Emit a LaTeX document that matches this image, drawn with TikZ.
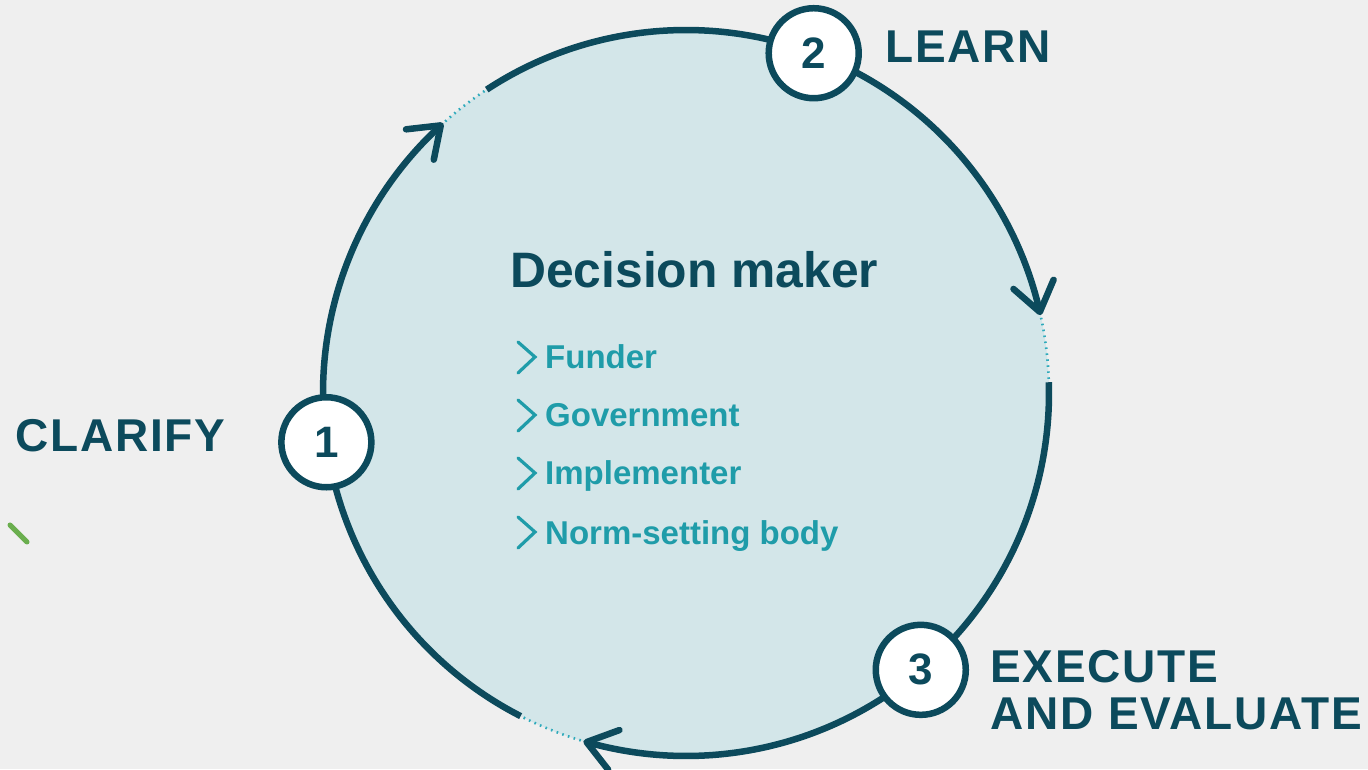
\documentclass[tikz,border=0pt]{standalone}
\usepackage{fontspec}
\setmainfont{Liberation Sans}
\newfontfamily\labelfont{Liberation Sans}[LetterSpace=4]
\definecolor{bgc}{HTML}{EFEFEF}
\definecolor{ringfill}{HTML}{D3E6E9}
\definecolor{ink}{HTML}{0C4A5C}
\definecolor{tealtxt}{HTML}{1F9CA9}
\definecolor{dotc}{HTML}{2EAABB}
\definecolor{markgreen}{HTML}{6AAE4E}

\begin{document}
\begin{tikzpicture}[x=1pt,y=1pt,
  ring/.style={draw=ink, line width=6.5pt},
  barb/.style={draw=ink, line width=6.5pt, line cap=round, line join=round},
  gapdots/.style={draw=dotc, line width=2.6pt, dash pattern=on 1.6pt off 4.4pt},
  stepnum/.style={circle, draw=ink, line width=6.5pt, fill=white, minimum size=90pt,
    inner sep=0pt, text=ink, font=\fontsize{44}{44}\selectfont\bfseries},
  phase/.style={anchor=base west, inner sep=0pt, text=ink,
    font=\labelfont\fontsize{46}{47}\selectfont\bfseries},
  item/.style={anchor=base west, inner sep=0pt, text=tealtxt,
    font=\fontsize{33}{33}\selectfont\bfseries},
  chev/.style={draw=tealtxt, line width=3.2pt, line cap=round, line join=miter}
]
\useasboundingbox (0,0) rectangle (1368,769);
\fill[bgc] (0,0) rectangle (1368,769);

% the cycle disc
\coordinate (c) at (686,376);
\fill[ringfill] (c) circle (363pt);

% arrow tips and the ends of the dotted gaps
\coordinate (t1) at ([shift={(132.5:363pt)}]c);
\coordinate (t2) at ([shift={(12.9:363pt)}]c);
\coordinate (t3) at ([shift={(-105.9:363pt)}]c);
\coordinate (g1) at ([shift={(123.3:363pt)}]c);
\coordinate (g2) at ([shift={(1.7:363pt)}]c);
\coordinate (g3) at ([shift={(-117.1:363pt)}]c);

% dotted gaps behind each arrow head
\draw[gapdots] (t1) arc (132.5:123.3:363pt);
\draw[gapdots] (t2) arc (12.9:1.7:363pt);
\draw[gapdots] (t3) arc (-105.9:-117.1:363pt);

% solid arcs, running clockwise
\draw[ring] (g3) arc (242.9:132.5:363pt);
\draw[ring] (g1) arc (123.3:12.9:363pt);
\draw[ring] (g2) arc (1.7:-105.9:363pt);

% open arrow heads along the clockwise direction
\draw[barb] (t1) ++({132.5+126}:35pt) -- (t1) -- ++({132.5+54}:35pt);
\draw[barb] (t2) ++({12.9+126}:35pt) -- (t2) -- ++({12.9+54}:35pt);
\draw[barb] (t3) ++({-105.9+126}:35pt) -- (t3) -- ++({-105.9+54}:35pt);

% numbered steps on the ring
\node[stepnum] (s1) at ([shift={(187.8:363pt)}]c) {1};
\node[stepnum] (s2) at ([shift={(69.4:363pt)}]c) {2};
\node[stepnum] (s3) at ([shift={(-49.7:363pt)}]c) {3};

% phase labels
\node[phase] (clarify) at (15,317) {CLARIFY};
\node[phase] (learn) at (885,706) {LEARN};
\node[phase] (execute) at (990,87)
  {\begin{tabular}[t]{@{}l@{}}EXECUTE\\AND EVALUATE\end{tabular}};

% centre text
\node[anchor=base west, inner sep=0pt, text=ink,
  font=\fontsize{49.8}{50}\selectfont\bfseries] (title) at (510,481) {Decision maker};

\draw[chev] (518,427) -- (535,412) -- (518,396);
\node[item] (funder) at (545,400) {Funder};
\draw[chev] (518,369) -- (535,354) -- (518,338);
\node[item] (gov) at (545,342) {Government};
\draw[chev] (518,311) -- (535,296) -- (518,280);
\node[item] (impl) at (545,284) {Implementer};
\draw[chev] (518,252) -- (535,237) -- (518,221);
\node[item] (norm) at (545,225) {Norm-setting body};

% small green stroke
\draw[markgreen, line width=5pt, line cap=round] (10,244) -- (27,227);
\end{tikzpicture}
\end{document}
